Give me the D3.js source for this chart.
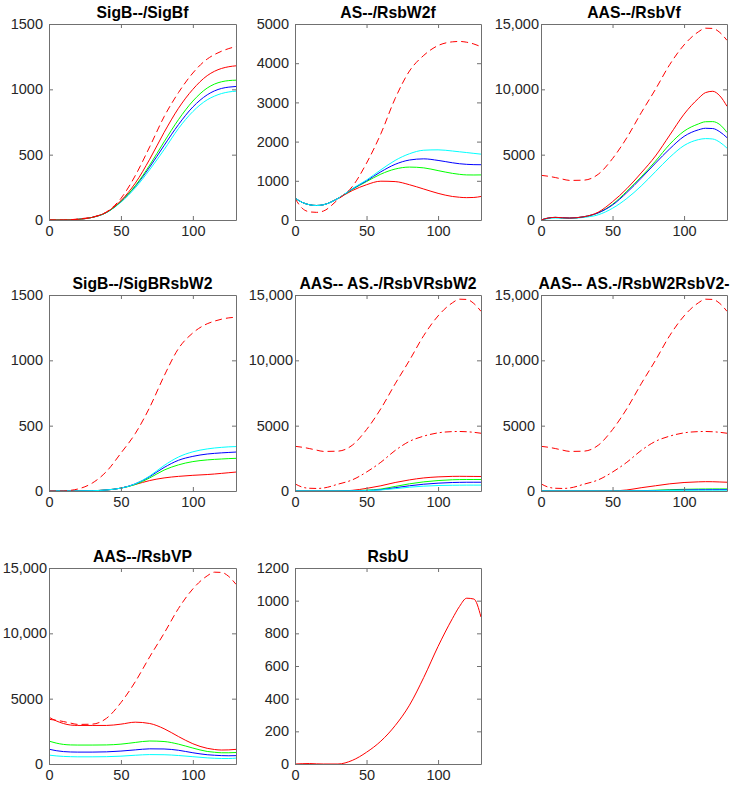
<!DOCTYPE html>
<html>
<head>
<meta charset="utf-8">
<script src="https://cdn.jsdelivr.net/npm/d3@7"></script>
<style>
  body { margin: 0; background: #fff; }
  svg { display: block; font-family: "Liberation Sans", Arial, sans-serif; }
</style>
</head>
<body>
<div id="chart"></div>
<script>
// shared time axis (minutes)
const T = [0, 5, 10, 15, 20, 30, 40, 50, 60, 70, 80, 90, 100, 110, 115, 120, 125, 130];

// reference curves reused in several panels
const sigbRef = [0, 0, 0, 2, 8, 22, 62, 165, 340, 560, 790, 975, 1125, 1232, 1266, 1292, 1312, 1328];
const asRef   = [550, 300, 210, 195, 230, 520, 850, 1450, 2200, 3100, 3800, 4200, 4450, 4545, 4555, 4535, 4490, 4420];
const aasRef  = [3420, 3350, 3250, 3130, 3030, 3050, 3500, 4700, 6300, 8200, 10000, 11900, 13400, 14400, 14680, 14660, 14350, 13750];
const sigbW2Ref = [0, 0, 0, 5, 15, 60, 150, 290, 440, 640, 880, 1090, 1210, 1280, 1300, 1315, 1325, 1330];

// SigB--/SigBf
const sigbfRed   = [0, 0, 0, 1, 5, 20, 60, 148, 282, 465, 670, 855, 1000, 1105, 1138, 1160, 1173, 1180];
const sigbfGreen = [0, 0, 0, 1, 5, 20, 58, 142, 262, 420, 598, 768, 910, 1010, 1040, 1058, 1067, 1070];
const sigbfBlue  = [0, 0, 0, 1, 5, 20, 58, 142, 258, 405, 570, 730, 865, 958, 988, 1007, 1017, 1022];
const sigbfCyan  = [0, 0, 0, 1, 5, 20, 57, 136, 246, 385, 538, 700, 830, 920, 948, 968, 980, 986];

// AS--/RsbW2f
const w2fRed   = [560, 450, 390, 370, 390, 550, 750, 900, 990, 980, 900, 790, 680, 600, 580, 570, 575, 600];
const w2fGreen = [560, 450, 390, 370, 390, 550, 780, 980, 1170, 1300, 1350, 1330, 1260, 1190, 1165, 1150, 1148, 1150];
const w2fBlue  = [560, 450, 390, 370, 390, 550, 790, 1000, 1230, 1420, 1530, 1560, 1520, 1460, 1435, 1420, 1412, 1410];
const w2fCyan  = [560, 450, 390, 370, 390, 550, 800, 1020, 1280, 1520, 1690, 1780, 1790, 1760, 1740, 1720, 1700, 1680];

// AAS--/RsbVf
const vfRed   = [0, 150, 200, 170, 150, 250, 600, 1400, 2400, 3600, 4900, 6500, 8100, 9300, 9750, 9850, 9500, 8700];
const vfGreen = [0, 150, 200, 170, 150, 250, 550, 1200, 2200, 3300, 4500, 5800, 6800, 7350, 7520, 7530, 7300, 6700];
const vfBlue  = [0, 150, 200, 170, 150, 250, 550, 1150, 2100, 3200, 4350, 5450, 6400, 6900, 7020, 7000, 6750, 6300];
const vfCyan  = [0, 100, 150, 130, 120, 200, 400, 900, 1650, 2600, 3700, 4800, 5700, 6150, 6230, 6200, 5950, 5500];

// SigB--/SigBRsbW2
const sbw2Red   = [0, 0, 0, 0, 0, 2, 8, 22, 50, 80, 100, 112, 120, 126, 130, 135, 140, 145];
const sbw2Green = [0, 0, 0, 0, 0, 2, 8, 22, 50, 100, 160, 200, 225, 238, 242, 245, 248, 250];
const sbw2Blue  = [0, 0, 0, 0, 0, 2, 8, 22, 55, 110, 180, 235, 265, 283, 288, 292, 295, 298];
const sbw2Cyan  = [0, 0, 0, 0, 0, 2, 8, 22, 55, 115, 195, 260, 300, 322, 329, 334, 338, 340];

// AAS-- AS.-/RsbVRsbW2
const vw2Red   = [0, 0, 0, 0, 0, 0, 50, 200, 400, 650, 850, 1000, 1080, 1120, 1125, 1120, 1115, 1110];
const vw2Green = [0, 0, 0, 0, 0, 0, 20, 60, 150, 350, 550, 700, 800, 860, 875, 880, 880, 880];
const vw2Blue  = [0, 0, 0, 0, 0, 0, 15, 40, 100, 250, 400, 520, 600, 650, 662, 670, 670, 670];
const vw2Cyan  = [0, 0, 0, 0, 0, 0, 10, 30, 80, 180, 290, 370, 420, 440, 446, 450, 450, 450];

// AAS-- AS.-/RsbW2RsbV2-
const w2v2Red   = [0, 0, 0, 0, 0, 0, 0, 10, 80, 250, 400, 550, 650, 700, 715, 710, 690, 670];
const w2v2Green = [0, 0, 0, 0, 0, 0, 0, 0, 5, 20, 60, 100, 130, 150, 155, 160, 160, 160];
const w2v2Blue  = [0, 0, 0, 0, 0, 0, 0, 0, 3, 12, 35, 60, 80, 95, 100, 102, 103, 103];
const w2v2Cyan  = [0, 0, 0, 0, 0, 0, 0, 0, 2, 8, 20, 35, 45, 55, 58, 60, 60, 60];

// AAS--/RsbVP
const vpRed   = [3580, 3300, 3100, 2980, 2950, 2950, 2950, 3050, 3200, 3100, 2700, 2100, 1550, 1200, 1110, 1070, 1080, 1120];
const vpGreen = [1750, 1600, 1500, 1460, 1450, 1450, 1460, 1520, 1650, 1760, 1720, 1520, 1220, 960, 900, 860, 860, 880];
const vpBlue  = [1130, 1020, 950, 920, 910, 910, 930, 990, 1080, 1160, 1150, 1050, 860, 710, 670, 640, 630, 640];
const vpCyan  = [680, 620, 580, 560, 550, 550, 560, 600, 670, 720, 710, 650, 560, 470, 440, 420, 420, 450];

// RsbU
const rsbU = [0, 2, 3, 1, 0, 0, 22, 72, 140, 235, 360, 530, 720, 890, 965, 1015, 1010, 900];

const xTicks = [0, 50, 100];
const ticks1500 = [0, 500, 1000, 1500];
const ticks5000 = [0, 1000, 2000, 3000, 4000, 5000];
const ticks15k = [0, 5000, 10000, 15000];
const ticks1200 = [0, 200, 400, 600, 800, 1000, 1200];

const titles = ['SigB--/SigBf', 'AS--/RsbW2f', 'AAS--/RsbVf',
                'SigB--/SigBRsbW2', 'AAS-- AS.-/RsbVRsbW2', 'AAS-- AS.-/RsbW2RsbV2-',
                'AAS--/RsbVP', 'RsbU'];

const RED = '#ff0000', GREEN = '#00ff00', BLUE = '#0000ff', CYAN = '#00ffff';
const DASH = '7,4', DASHDOT = '7,3,2,3';

const panels = [
  {yMax: 1500, yTicks: ticks1500, lines: [
    [sigbfCyan, CYAN], [sigbfBlue, BLUE], [sigbfGreen, GREEN], [sigbfRed, RED], [sigbRef, RED, DASH]]},
  {yMax: 5000, yTicks: ticks5000, lines: [
    [w2fRed, RED], [w2fGreen, GREEN], [w2fBlue, BLUE], [w2fCyan, CYAN], [asRef, RED, DASH]]},
  {yMax: 15000, yTicks: ticks15k, lines: [
    [vfCyan, CYAN], [vfGreen, GREEN], [vfBlue, BLUE], [vfRed, RED], [aasRef, RED, DASH]]},
  {yMax: 1500, yTicks: ticks1500, lines: [
    [sbw2Red, RED], [sbw2Green, GREEN], [sbw2Blue, BLUE], [sbw2Cyan, CYAN], [sigbW2Ref, RED, DASH]]},
  {yMax: 15000, yTicks: ticks15k, lines: [
    [vw2Red, RED], [vw2Green, GREEN], [vw2Blue, BLUE], [vw2Cyan, CYAN], [asRef, RED, DASHDOT], [aasRef, RED, DASH]]},
  {yMax: 15000, yTicks: ticks15k, lines: [
    [w2v2Red, RED], [w2v2Green, GREEN], [w2v2Blue, BLUE], [w2v2Cyan, CYAN], [asRef, RED, DASHDOT], [aasRef, RED, DASH]]},
  {yMax: 15000, yTicks: ticks15k, lines: [
    [vpCyan, CYAN], [vpBlue, BLUE], [vpGreen, GREEN], [aasRef, RED, DASH], [vpRed, RED]]},
  {yMax: 1200, yTicks: ticks1200, lines: [[rsbU, RED]]}
];

const width = 735, height = 788;
const colX = [49, 295, 541];
const colW = [187, 186, 186];
const rowY = [24, 295, 568];
const plotH = 196;
const axisColor = '#707070';

const svg = d3.select('#chart')
  .append('svg')
  .attr('width', width)
  .attr('height', height);

const yFormat = d => d >= 10000 ? d3.format(',')(d) : String(d);

panels.forEach((p, i) => {
  const col = i % 3, row = Math.floor(i / 3);
  const w = colW[col];
  const g = svg.append('g').attr('transform', `translate(${colX[col]},${rowY[row]})`);

  const x = d3.scaleLinear().domain([0, 130]).range([0, w]);
  const y = d3.scaleLinear().domain([0, p.yMax]).range([plotH, 0]);

  g.append('clipPath').attr('id', 'clip' + i)
    .append('rect').attr('width', w).attr('height', plotH);

  const line = d3.line()
    .x((d, k) => x(T[k]))
    .y(d => y(d))
    .curve(d3.curveMonotoneX);

  const lg = g.append('g').attr('clip-path', `url(#clip${i})`);
  p.lines.forEach(([vals, color, dash]) => {
    lg.append('path')
      .datum(vals)
      .attr('d', line)
      .attr('fill', 'none')
      .attr('stroke', color)
      .attr('stroke-width', 1)
      .attr('stroke-dasharray', dash || null);
  });

  // axes, ticks pointing inward, box on
  const styleAxis = sel => {
    sel.select('.domain').attr('stroke', axisColor);
    sel.selectAll('.tick line').attr('stroke', axisColor);
    sel.selectAll('.tick text')
      .attr('fill', '#262626')
      .style('font-size', '14.5px')
      .style('font-family', '"Liberation Sans", Arial, sans-serif');
  };

  g.append('g').attr('transform', `translate(0,${plotH})`)
    .call(d3.axisBottom(x).tickValues(xTicks).tickSize(-4).tickSizeOuter(0).tickPadding(6))
    .call(styleAxis);
  g.append('g')
    .call(d3.axisTop(x).tickValues(xTicks).tickSize(-4).tickSizeOuter(0).tickFormat(''))
    .call(styleAxis);
  g.append('g')
    .call(d3.axisLeft(y).tickValues(p.yTicks).tickFormat(yFormat).tickSize(-4).tickSizeOuter(0).tickPadding(6))
    .call(styleAxis)
    .selectAll('.tick text')
    .filter(d => d >= 10000)
    .attr('x', -2);
  g.append('g').attr('transform', `translate(${w},0)`)
    .call(d3.axisRight(y).tickValues(p.yTicks).tickSize(-4).tickSizeOuter(0).tickFormat(''))
    .call(styleAxis);

  g.append('text')
    .attr('x', w / 2)
    .attr('y', -6)
    .attr('text-anchor', 'middle')
    .style('font-size', '15.75px')
    .style('font-weight', 'bold')
    .attr('fill', '#000')
    .text(titles[i]);
});
</script>
</body>
</html>
